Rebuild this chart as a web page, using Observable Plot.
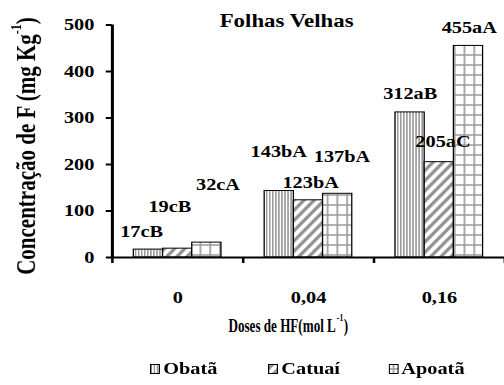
<!DOCTYPE html>
<html>
<head>
<meta charset="utf-8">
<script src="https://cdn.jsdelivr.net/npm/d3@7"></script>
<script src="https://cdn.jsdelivr.net/npm/@observablehq/plot@0.6"></script>
<style>
  html, body { margin: 0; padding: 0; background: #fff; }
  /* the figure is drawn narrow and widened horizontally as a whole */
  #wrap {
    width: 397px;
    transform: scaleX(1.27);
    transform-origin: 0 0;
    font-family: "Liberation Serif", "Times New Roman", serif;
    font-weight: bold;
    color: #000;
  }
  #wrap svg [aria-label^="y-axis"] line,
  #wrap svg [aria-label^="y-axis"] path,
  #wrap svg [aria-label^="x-axis"] line,
  #wrap svg [aria-label^="x-axis"] path { stroke-width: 2; }
  .legend { position: relative; height: 33px; font-size: 16px; }
  .legend .item { position: absolute; top: 0; height: 33px; display: flex; align-items: center; }
  .legend svg { display: block; margin-right: 2.5px; }
</style>
</head>
<body>
<div id="wrap"></div>
<script>
// Fluorine concentration in old leaves, by HF dose and cultivar
const doses = ["0", "0,04", "0,16"];
const cultivars = ["Obatã", "Catuaí", "Apoatã"];
const obata = [17, 143, 312];
const catuai = [19, 123, 205];
const apoata = [32, 137, 455];
const obataLetters = ["cB", "bA", "aB"];
const catuaiLetters = ["cB", "bA", "aC"];
const apoataLetters = ["cA", "bA", "aA"];
const yTicks = [0, 100, 200, 300, 400, 500];

// label nudges (px) so the value labels sit where the author put them
const nudgeDx = { "Obatã": [-5.5, -0.5, 0], "Catuaí": [-6.3, 1.6, 2.8], "Apoatã": [8.7, 3.3, 0.5] };
const nudgeDy = { "Obatã": [-17.6, -39.5, -18.4], "Catuaí": [-42, -17.3, -20.7], "Apoatã": [-58, -37.3, -18.4] };

const patternIds = ["pat-obata", "pat-catuai", "pat-apoata"];

const series = [
  { name: "Obatã", values: obata, letters: obataLetters },
  { name: "Catuaí", values: catuai, letters: catuaiLetters },
  { name: "Apoatã", values: apoata, letters: apoataLetters }
];

// bars of one dose share a band of width 1 on the x scale
const inner = d3.scaleBand().domain(cultivars).range([0, 1]).paddingInner(0).paddingOuter(0.74);

const rows = doses.flatMap((dose, i) => series.map(s => ({
  dose,
  cultivar: s.name,
  value: s.values[i],
  label: `${s.values[i]}${s.letters[i]}`,
  x1: i + inner(s.name),
  x2: i + inner(s.name) + inner.bandwidth(),
  dx: nudgeDx[s.name][i],
  dy: nudgeDy[s.name][i]
})));

const doseRows = doses.map((d, i) => ({ dose: d, center: i + 0.5 }));

const chart = Plot.plot({
  width: 397,
  height: 352,
  marginLeft: 88,
  marginRight: 0,
  marginTop: 24.5,
  marginBottom: 95,
  style: {
    fontFamily: '"Liberation Serif", "Times New Roman", serif',
    fontSize: "16px",
    fontWeight: "bold",
    color: "#000",
    background: "#fff",
    overflow: "visible"
  },
  x: { type: "linear", domain: [0, 3], ticks: [0, 1, 2, 3], tickSize: 6, tickFormat: () => "", label: null },
  y: { domain: [0, 500], ticks: yTicks, tickSize: 4.7, tickPadding: 9.5, label: null },
  color: { type: "ordinal", domain: cultivars, range: patternIds.map(id => `url(#${id})`) },
  marks: [
    Plot.rectY(rows, { x1: "x1", x2: "x2", y: "value", fill: "cultivar", stroke: "#000", strokeWidth: 1 }),
    Plot.ruleY([0], { stroke: "#000", strokeWidth: 2 }),
    Plot.ruleX([0], { y1: 0, y2: 500, stroke: "#000", strokeWidth: 2.4 }),
    ...rows.map(r => Plot.text([r], {
      x: d => (d.x1 + d.x2) / 2, y: "value", text: "label",
      dx: r.dx, dy: r.dy, lineAnchor: "middle", fontSize: 16, fontWeight: "bold", fill: "#000"
    })),
    Plot.text(doseRows, { x: "center", y: () => 0, text: "dose", dy: 40, lineAnchor: "middle", fontSize: 16, fill: "#000" }),
    Plot.text(["Folhas Velhas"], { frameAnchor: "top", dx: -17.3, dy: -3.5, lineAnchor: "middle", fontSize: 18, fill: "#000" })
  ]
});

const svg = d3.select(chart.tagName.toLowerCase() === "svg" ? chart : chart.querySelector("svg"));

// hatch fills
const defs = svg.insert("defs", ":first-child");
const pObata = defs.append("pattern").attr("id", "pat-obata").attr("patternUnits", "userSpaceOnUse")
  .attr("width", 2.4).attr("height", 10);
pObata.append("rect").attr("width", 2.4).attr("height", 10).attr("fill", "#fff");
pObata.append("line").attr("x1", 1.2).attr("x2", 1.2).attr("y1", 0).attr("y2", 10)
  .attr("stroke", "#7a7a7a").attr("stroke-width", 0.9);

const pCatuai = defs.append("pattern").attr("id", "pat-catuai").attr("patternUnits", "userSpaceOnUse")
  .attr("width", 6.3).attr("height", 10).attr("patternTransform", "rotate(38)");
pCatuai.append("rect").attr("width", 6.3).attr("height", 10).attr("fill", "#fff");
pCatuai.append("line").attr("x1", 3.15).attr("x2", 3.15).attr("y1", 0).attr("y2", 10)
  .attr("stroke", "#8f8f8f").attr("stroke-width", 2.8);

const pApoata = defs.append("pattern").attr("id", "pat-apoata").attr("patternUnits", "userSpaceOnUse")
  .attr("width", 7.7).attr("height", 10);
pApoata.append("rect").attr("width", 7.7).attr("height", 10).attr("fill", "#fff");
pApoata.append("line").attr("x1", 3.85).attr("x2", 3.85).attr("y1", 0).attr("y2", 10)
  .attr("stroke", "#9a9a9a").attr("stroke-width", 1.3);
pApoata.append("line").attr("x1", 0).attr("x2", 7.7).attr("y1", 5).attr("y2", 5)
  .attr("stroke", "#9a9a9a").attr("stroke-width", 1.5);

// axis titles with superscripts
const yTitle = svg.append("text")
  .attr("transform", "translate(22,146) rotate(-90)")
  .attr("text-anchor", "middle").attr("dominant-baseline", "middle")
  .attr("font-size", 21).attr("font-weight", "bold").attr("fill", "#000");
yTitle.append("tspan").text("Concentração de F (mg Kg");
yTitle.append("tspan").attr("font-size", 12).attr("dy", -8).text("-1");
yTitle.append("tspan").attr("dy", 8).text(")");

const wrap = document.getElementById("wrap");
wrap.appendChild(chart);

// the dose title is set in a tighter, narrower line
const xTitleWidth = 93;
const xTitle = svg.append("text")
  .attr("text-anchor", "middle").attr("dominant-baseline", "middle")
  .attr("font-size", 19).attr("font-weight", "bold").attr("fill", "#000");
xTitle.append("tspan").text("Doses de HF(mol L");
xTitle.append("tspan").attr("font-size", 11).attr("dy", -8).attr("dx", 1.5).text("-1");
xTitle.append("tspan").attr("dy", 8).attr("dx", 0.8).text(")");
const natural = xTitle.node().getComputedTextLength() || 150;
xTitle.attr("transform", `translate(227,327) scale(${xTitleWidth / natural},1)`);

// legend
const legend = document.createElement("div");
legend.className = "legend";
const legendLeft = [118, 211, 305.5];
cultivars.forEach((c, i) => {
  const item = document.createElement("div");
  item.className = "item";
  item.style.left = legendLeft[i] + "px";
  const sw = d3.create("svg").attr("width", 8).attr("height", 10);
  sw.append("rect").attr("x", 0.5).attr("y", 0.5).attr("width", 7).attr("height", 9)
    .attr("fill", `url(#${patternIds[i]})`).attr("stroke", "#000").attr("stroke-width", 1);
  item.appendChild(sw.node());
  const label = document.createElement("span");
  label.textContent = c;
  item.appendChild(label);
  legend.appendChild(item);
});
wrap.appendChild(legend);
</script>
</body>
</html>
